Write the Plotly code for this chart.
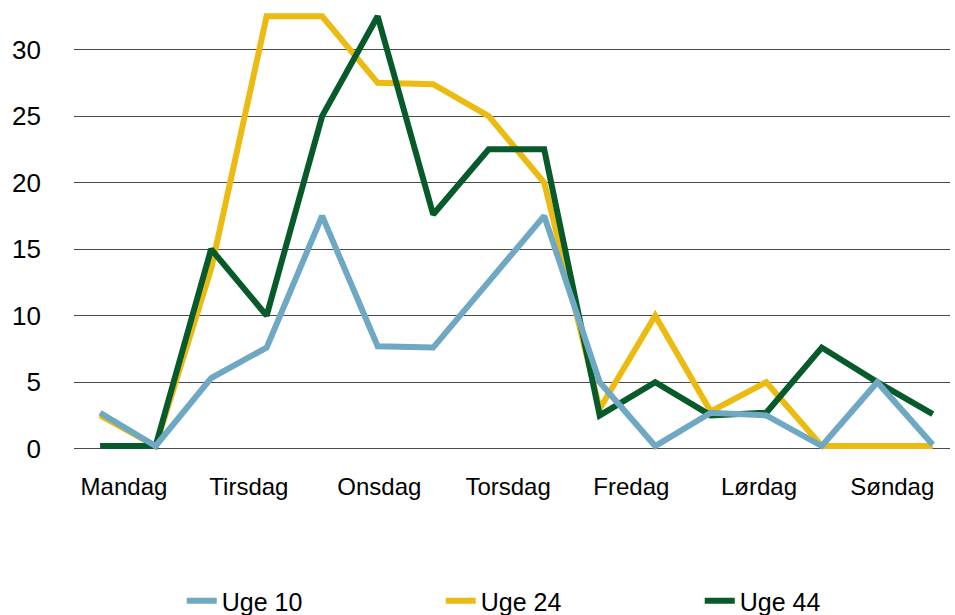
import plotly.graph_objects as go

# 16 measurement slots across the week
slots = list(range(16))
day_labels = ["Mandag", "Tirsdag", "Onsdag", "Torsdag", "Fredag", "Lørdag", "Søndag"]
day_tick_pos = [0.43, 2.68, 5.03, 7.35, 9.57, 11.87, 14.27]

uge10 = [2.7, 0.2, 5.3, 7.6, 17.5, 7.7, 7.6, 12.5, 17.5, 5.0, 0.2, 2.7, 2.5, 0.2, 5.0, 0.3]
uge24 = [2.5, 0.2, 13.5, 32.5, 32.5, 27.5, 27.4, 25.0, 20.0, 3.0, 10.0, 2.8, 5.0, 0.2, 0.2, 0.2]
uge44 = [0.2, 0.2, 15.0, 10.0, 25.0, 32.5, 17.6, 22.5, 22.5, 2.5, 5.0, 2.5, 2.7, 7.6, 5.0, 2.6]

series = [
    ("Uge 24", uge24, "#ECBB12", 2),
    ("Uge 44", uge44, "#075A2A", 3),
    ("Uge 10", uge10, "#6FA8C2", 1),
]

fig = go.Figure()
for name, vals, color, rank in series:
    fig.add_trace(go.Scatter(
        x=slots, y=vals, name=name, mode="lines",
        line=dict(color=color, width=6),
        legendrank=rank,
    ))

x_font = dict(family="Liberation Sans, Arial, sans-serif", size=24, color="#000000")
y_font = dict(family="Liberation Sans, Arial, sans-serif", size=26, color="#000000")

fig.update_layout(
    width=955, height=615,
    margin=dict(l=74, r=5, t=7, b=161, autoexpand=False),
    paper_bgcolor="white", plot_bgcolor="white",
    showlegend=True,
    legend=dict(
        orientation="h",
        x=0.123, y=-0.329, xanchor="left", yanchor="middle",
        entrywidth=214, entrywidthmode="pixels",
        font=dict(family="Liberation Sans, Arial, sans-serif", size=25, color="#000000"),
        traceorder="normal",
    ),
    xaxis=dict(
        range=[-0.47, 15.31],
        tickmode="array", tickvals=day_tick_pos, ticktext=day_labels,
        showgrid=False, zeroline=False, showline=False,
        ticks="", tickfont=x_font, ticklabelstandoff=16,
    ),
    yaxis=dict(
        range=[-0.4, 33.2],
        tick0=0, dtick=5,
        showgrid=True, gridcolor="#4a4a4a", gridwidth=1,
        zeroline=False, showline=False,
        ticks="", tickfont=y_font, ticklabelstandoff=32,
    ),
)

fig.write_html(
    "out.html",
    config={"displayModeBar": False},
    post_script="document.body.style.margin='0';",
)
